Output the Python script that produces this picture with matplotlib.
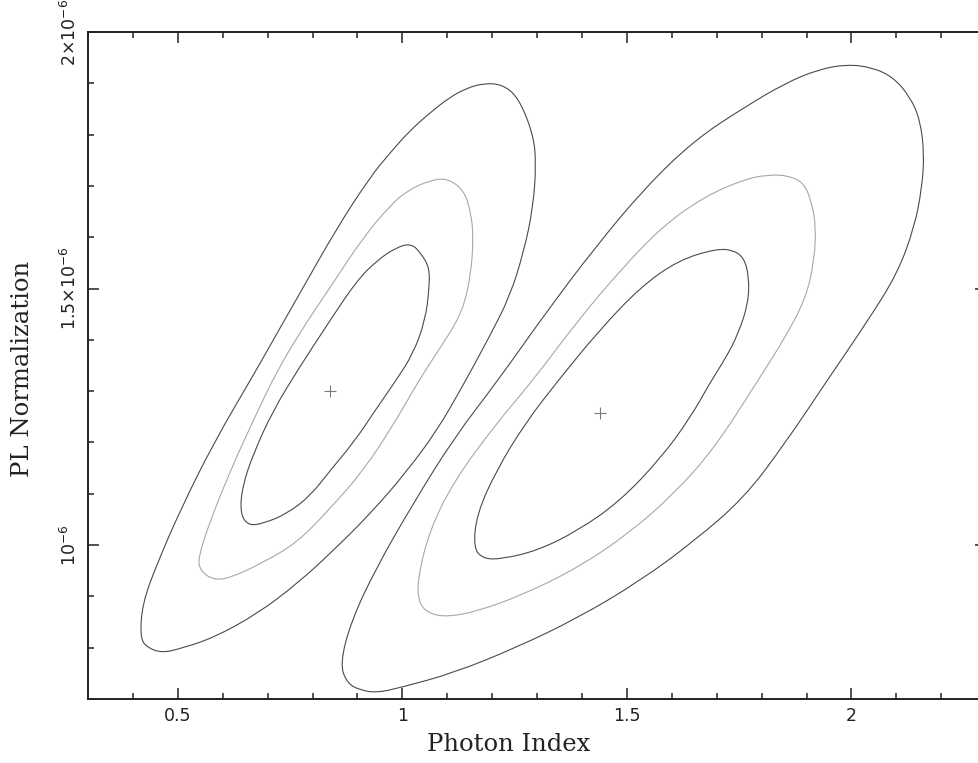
import numpy as np
import matplotlib
matplotlib.use('Agg')
import matplotlib.pyplot as plt
from matplotlib.ticker import MultipleLocator
from matplotlib.path import Path
from matplotlib.patches import PathPatch

# confidence contours, PL normalization in units of 1e-6
# left fit (set 1)
LO_X = [1.180, 1.142, 1.106, 1.062, 1.017, 0.973, 0.928, 0.855, 0.779, 0.712, 0.674, 0.579, 0.505, 0.454, 0.421, 0.416, 0.432, 0.465, 0.505, 0.579, 0.677, 0.766, 0.846, 0.935, 1.011, 1.077, 1.135, 1.195, 1.240, 1.271, 1.291, 1.298, 1.291, 1.258, 1.222]
LO_Y = [1.900, 1.890, 1.873, 1.843, 1.808, 1.765, 1.717, 1.619, 1.502, 1.399, 1.340, 1.198, 1.067, 0.964, 0.886, 0.819, 0.800, 0.790, 0.798, 0.819, 0.866, 0.925, 0.989, 1.067, 1.145, 1.223, 1.311, 1.408, 1.486, 1.574, 1.658, 1.744, 1.802, 1.873, 1.898]
LM_X = [1.100, 1.062, 1.011, 0.973, 0.913, 0.839, 0.779, 0.721, 0.668, 0.617, 0.572, 0.545, 0.550, 0.579, 0.617, 0.690, 0.766, 0.839, 0.913, 0.979, 1.037, 1.077, 1.133, 1.153, 1.158, 1.153, 1.138]
LM_Y = [1.715, 1.711, 1.691, 1.662, 1.600, 1.502, 1.424, 1.340, 1.243, 1.145, 1.047, 0.975, 0.950, 0.932, 0.936, 0.966, 1.005, 1.071, 1.145, 1.233, 1.321, 1.375, 1.451, 1.529, 1.600, 1.646, 1.691]
LI_X = [1.020, 0.986, 0.944, 0.899, 0.839, 0.766, 0.712, 0.668, 0.643, 0.639, 0.657, 0.690, 0.743, 0.795, 0.839, 0.895, 0.939, 0.986, 1.024, 1.051, 1.060, 1.060, 1.042]
LI_Y = [1.588, 1.580, 1.555, 1.516, 1.438, 1.340, 1.262, 1.178, 1.112, 1.061, 1.038, 1.042, 1.061, 1.096, 1.145, 1.204, 1.262, 1.321, 1.373, 1.438, 1.502, 1.541, 1.568]
# right fit (set 2)
RO_X = [1.990, 1.926, 1.852, 1.761, 1.650, 1.541, 1.429, 1.318, 1.213, 1.115, 1.024, 0.942, 0.886, 0.861, 0.877, 0.904, 0.942, 0.995, 1.115, 1.253, 1.391, 1.529, 1.650, 1.761, 1.852, 1.946, 2.037, 2.102, 2.140, 2.157, 2.162, 2.153, 2.131, 2.093, 2.046]
RO_Y = [1.937, 1.927, 1.900, 1.853, 1.789, 1.697, 1.580, 1.451, 1.321, 1.209, 1.081, 0.956, 0.852, 0.768, 0.731, 0.718, 0.712, 0.722, 0.751, 0.800, 0.858, 0.930, 1.008, 1.092, 1.198, 1.321, 1.438, 1.529, 1.619, 1.697, 1.763, 1.828, 1.873, 1.912, 1.931]
RM_X = [1.817, 1.761, 1.670, 1.576, 1.485, 1.391, 1.291, 1.209, 1.115, 1.060, 1.033, 1.037, 1.060, 1.102, 1.171, 1.273, 1.391, 1.503, 1.605, 1.696, 1.792, 1.852, 1.899, 1.917, 1.921, 1.912, 1.895, 1.861]
RM_Y = [1.722, 1.713, 1.678, 1.619, 1.535, 1.438, 1.321, 1.237, 1.125, 1.028, 0.930, 0.886, 0.866, 0.860, 0.872, 0.905, 0.956, 1.022, 1.100, 1.190, 1.321, 1.404, 1.482, 1.555, 1.619, 1.666, 1.705, 1.720]
RI_X = [1.701, 1.614, 1.529, 1.438, 1.347, 1.273, 1.209, 1.166, 1.158, 1.180, 1.222, 1.300, 1.391, 1.485, 1.576, 1.641, 1.688, 1.719, 1.748, 1.770, 1.772, 1.761, 1.739]
RI_Y = [1.578, 1.555, 1.502, 1.418, 1.321, 1.237, 1.145, 1.061, 0.995, 0.973, 0.973, 0.989, 1.028, 1.086, 1.170, 1.248, 1.321, 1.363, 1.412, 1.471, 1.522, 1.559, 1.574]

BEST_X = [0.838, 1.440]
BEST_Y = [1.300, 1.257]

XTICKS = [0.5, 1, 1.5, 2]
XTICKLABELS = ['0.5', '1', '1.5', '2']
YTICKS = [1.0, 1.5, 2.0]
YTICKLABELS = [r'$10^{-6}$', r'$1.5{\times}10^{-6}$', r'$2{\times}10^{-6}$']

SCALE = 1e-6
DARK = '#4a4a4a'
LIGHT = '#a8a8a8'


def smooth_loop(cx, cy):
    # closed quadratic bezier path, traced points act as control points
    p = np.column_stack([cx, np.array(cy) * SCALE])
    m = (p + np.roll(p, -1, axis=0)) / 2
    verts = [m[-1]]
    codes = [Path.MOVETO]
    for i in range(len(p)):
        verts += [p[i], m[i]]
        codes += [Path.CURVE3, Path.CURVE3]
    return Path(verts, codes)


fig = plt.figure(figsize=(9.79, 7.63), dpi=100)
# axes runs a little past the right edge of the picture, like the reference
ax = fig.add_axes([88/979, 64/763, 898.2/979, 667/763])

contours = [(LO_X, LO_Y, DARK), (LM_X, LM_Y, LIGHT), (LI_X, LI_Y, DARK),
            (RO_X, RO_Y, DARK), (RM_X, RM_Y, LIGHT), (RI_X, RI_Y, DARK)]
for cx, cy, col in contours:
    ax.add_patch(PathPatch(smooth_loop(cx, cy), fill=False, edgecolor=col, lw=0.8))

ax.plot(BEST_X, np.array(BEST_Y) * SCALE, ls='none', marker='+', ms=9, mew=0.8, color='#7a7a7a')

ax.set_xlim(0.3, 2.3)
ax.set_ylim(0.7 * SCALE, 2.0 * SCALE)

ax.set_xticks(XTICKS)
ax.set_xticklabels(XTICKLABELS)
ax.set_yticks(np.array(YTICKS) * SCALE)
ax.set_yticklabels(YTICKLABELS, rotation=90, va='center')
ax.xaxis.set_minor_locator(MultipleLocator(0.1))
ax.yaxis.set_minor_locator(MultipleLocator(0.1 * SCALE))

ax.tick_params(which='both', direction='in', top=True, right=True, colors='#222222', width=1.1)
ax.tick_params(which='major', length=7.7, labelsize=12.5)
ax.tick_params(which='minor', length=4.3)
ax.tick_params(axis='x', which='major', pad=6)
ax.tick_params(axis='y', which='major', pad=6)
for s in ax.spines.values():
    s.set_linewidth(1.4)
    s.set_color('#222222')

ax.set_xlabel('Photon Index', family='DejaVu Serif', fontsize=17.5, color='#222222')
ax.xaxis.set_label_coords(0.4688, -0.051)
ax.set_ylabel('PL Normalization', family='DejaVu Serif', fontsize=17.5, color='#222222')
ax.yaxis.set_label_coords(-0.0601, 0.4948)

plt.savefig('out.png', dpi=100)
